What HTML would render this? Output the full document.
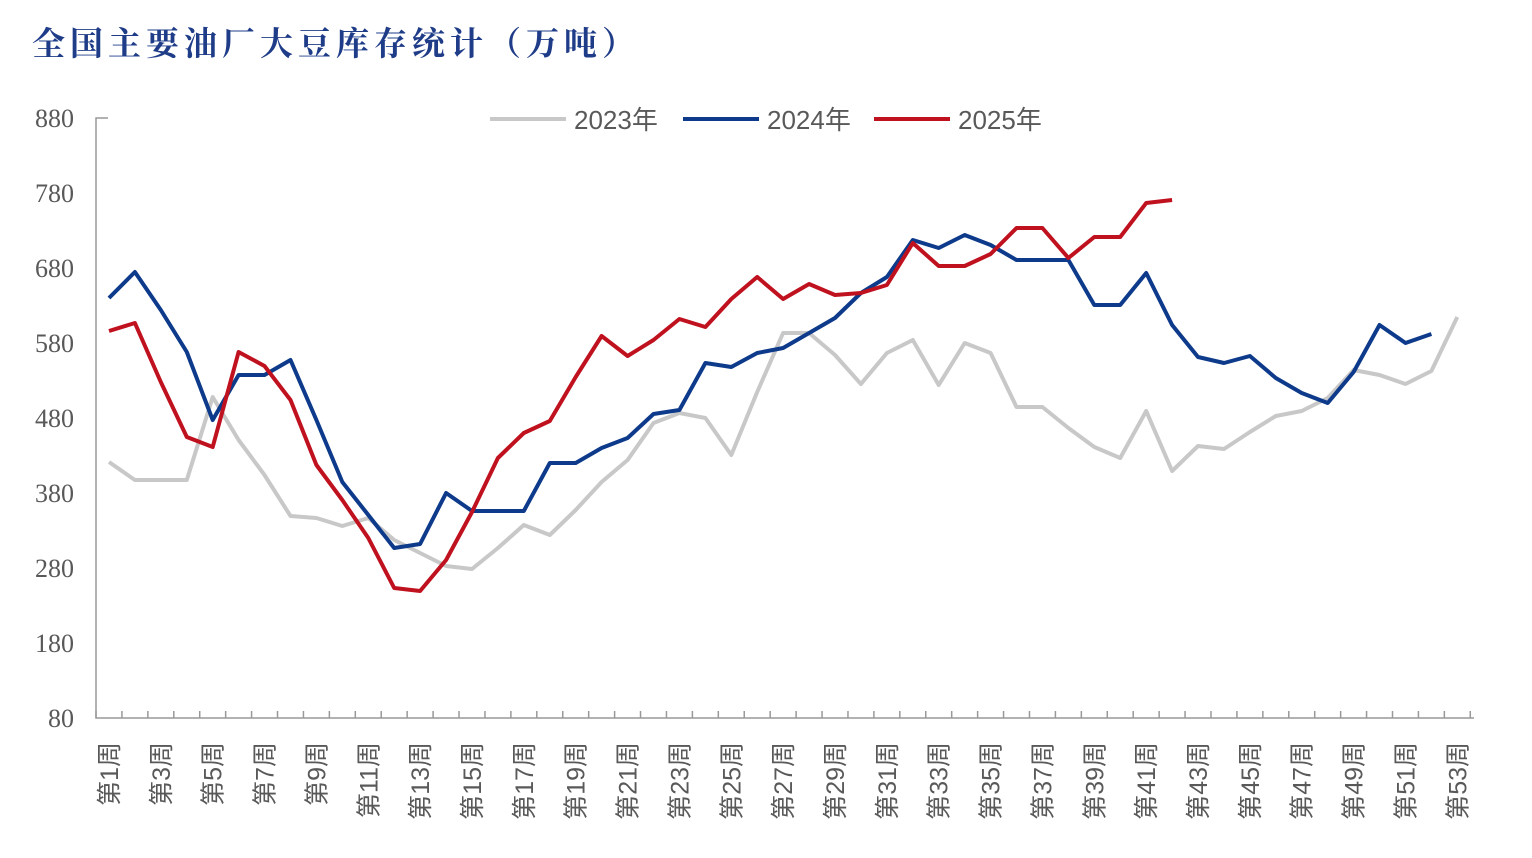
<!DOCTYPE html>
<html><head><meta charset="utf-8"><style>
body{margin:0;background:#fff;width:1532px;height:858px;overflow:hidden}
svg{display:block}
</style></head><body>
<svg id="c" width="1532" height="858" xmlns="http://www.w3.org/2000/svg">
<text x="32" y="55" font-family="'Noto Serif CJK SC',serif" font-weight="bold" font-size="33" letter-spacing="5" fill="#1f3c88">全国主要油厂大豆库存统计（万吨）</text>
<g font-family="'Liberation Serif',serif" font-size="26" fill="#595959" text-anchor="end">
<text x="74" y="127">880</text><text x="74" y="202">780</text><text x="74" y="277">680</text><text x="74" y="352">580</text><text x="74" y="427">480</text><text x="74" y="502">380</text><text x="74" y="577">280</text><text x="74" y="652">180</text><text x="74" y="727">80</text>
</g>
<g id="ax" stroke="#999" stroke-width="1.5" fill="none"></g>
<g id="xl" font-family="'Liberation Sans','Noto Sans CJK SC',sans-serif" font-size="25" fill="#595959"></g>
<g font-family="'Liberation Sans','Noto Sans CJK SC',sans-serif" font-size="26" fill="#595959">
<line x1="490" y1="119" x2="566" y2="119" stroke="#c8c8c8" stroke-width="4"/><text x="574" y="129">2023年</text>
<line x1="683" y1="119" x2="759" y2="119" stroke="#0d3a8a" stroke-width="4"/><text x="767" y="129">2024年</text>
<line x1="874" y1="119" x2="950" y2="119" stroke="#c0111f" stroke-width="4"/><text x="958" y="129">2025年</text>
</g>
<polyline id="g" fill="none" stroke="#c8c8c8" stroke-width="4" stroke-linejoin="round"/>
<polyline id="b" fill="none" stroke="#0d3a8a" stroke-width="4" stroke-linejoin="round"/>
<polyline id="r" fill="none" stroke="#c0111f" stroke-width="4" stroke-linejoin="round"/>
</svg>
<script>
var W=25.93,X0=96;function cx(i){return X0+(i-0.5)*W}
var ax=document.getElementById('ax');
var s='<path d="M108 118H96V718H1474"/>';
for(var i=0;i<=53;i++){var x=X0+i*W;s+='<path d="M'+x+' 718V711"/>';}
ax.innerHTML=s;
var xl='';for(var i=1;i<=53;i+=2){var x=cx(i)+9;xl+='<text transform="translate('+x+',742) rotate(-90)" text-anchor="end">第'+i+'周</text>';}
document.getElementById('xl').innerHTML=xl;
var G=[462,480,480,480,397,440,475,516,518,526,518,540,553,566,569,548,525,535,510,482,460,423,413,418,455,392,333,333,355,384,353,340,385,343,353,407,407,428,447,458,411,471,446,449,432,416,411,398,370,375,384,371,317];
var B=[298,272,310,352,420,375,375,360,420,482,515,548,544,493,511,511,511,463,463,448,438,414,410,363,367,353,348,333,318,293,277,240,248,235,245,260,260,260,305,305,273,325,357,363,356,378,393,403,372,325,343,334];
var R=[331,323,382,437,447,352,366,400,465,500,538,588,591,560,512,458,433,421,377,336,356,340,319,327,299,277,299,284,295,293,285,243,266,266,254,228,228,258,237,237,203,200];
function p(id,a){document.getElementById(id).setAttribute('points',a.map(function(y,i){return cx(i+1).toFixed(1)+','+y}).join(' '))}
p('g',G);p('b',B);p('r',R);
</script>
</body></html>
